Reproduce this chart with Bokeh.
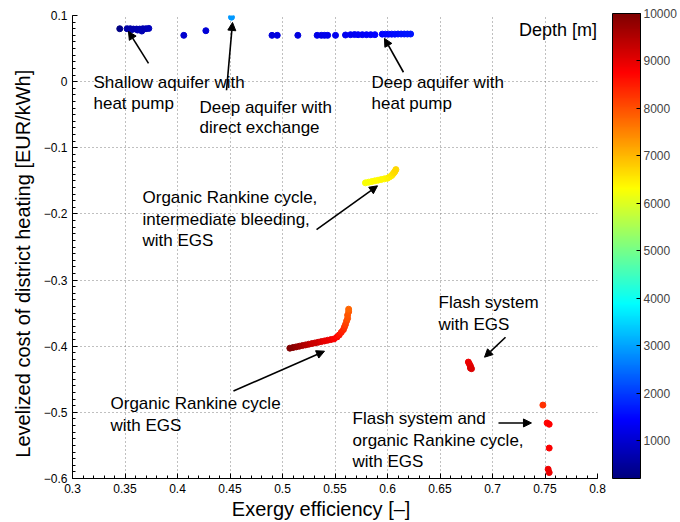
import numpy as np
from bokeh.plotting import figure
from bokeh.models import (ColumnDataSource, LinearColorMapper, ColorBar, FixedTicker,
                          CustomJSTickFormatter, Label, Arrow, NormalHead)
from bokeh.transform import transform
from bokeh.embed import file_html
from bokeh.resources import INLINE

# ---------------- data ----------------
shallow_eff = [0.345, 0.352, 0.355, 0.358, 0.361, 0.364, 0.367, 0.370, 0.3727, 0.356, 0.362, 0.366]
shallow_cost = [0.080, 0.080, 0.080, 0.0795, 0.0795, 0.0795, 0.080, 0.080, 0.0805, 0.0785, 0.078, 0.0765]
shallow_depth = [250, 600, 620, 650, 680, 700, 720, 750, 780, 640, 690, 700]

direct_eff = [0.4514]
direct_cost = [0.0975]
direct_depth = [2900]

deephp_eff = [0.406, 0.427, 0.490, 0.495, 0.5146, 0.533, 0.537, 0.540, 0.543, 0.5505, 0.560, 0.5648,
              0.5686, 0.572, 0.576, 0.580, 0.584, 0.588, 0.595, 0.598, 0.601, 0.604, 0.607, 0.610,
              0.613, 0.616, 0.619, 0.622]
deephp_cost = [0.070, 0.077, 0.070, 0.070, 0.070, 0.070, 0.070, 0.070, 0.070, 0.070, 0.0705, 0.071,
               0.0712, 0.071, 0.071, 0.071, 0.071, 0.071, 0.0718, 0.0718, 0.0718, 0.0718, 0.0718, 0.072,
               0.072, 0.072, 0.072, 0.072]
deephp_depth = [1000, 1050, 1100, 1120, 1150, 1200, 1220, 1240, 1260, 1280, 1300, 1320,
                1340, 1360, 1380, 1400, 1420, 1440, 1460, 1480, 1500, 1520, 1540, 1560,
                1580, 1600, 1620, 1640]

orcb_eff = [0.579, 0.582, 0.585, 0.588, 0.591, 0.594, 0.597, 0.600, 0.602, 0.604, 0.605, 0.606, 0.607, 0.608]
orcb_cost = [-0.153, -0.152, -0.151, -0.150, -0.149, -0.148, -0.147, -0.146, -0.144, -0.142, -0.140, -0.138, -0.136, -0.133]
orcb_depth = [6250, 6280, 6300, 6330, 6350, 6380, 6400, 6430, 6460, 6500, 6550, 6600, 6650, 6700]

orc_eff = [0.507, 0.510, 0.513, 0.516, 0.519, 0.522, 0.525, 0.528, 0.531, 0.534, 0.537, 0.540, 0.543,
           0.546, 0.549, 0.552, 0.554, 0.556, 0.558, 0.559, 0.560, 0.561, 0.562, 0.562, 0.563, 0.563]
orc_cost = [-0.403, -0.402, -0.401, -0.400, -0.399, -0.398, -0.397, -0.396, -0.395, -0.394, -0.393, -0.392, -0.391,
            -0.390, -0.389, -0.386, -0.383, -0.379, -0.375, -0.371, -0.367, -0.362, -0.358, -0.353, -0.348, -0.344]
orc_depth = [10000, 9900, 9800, 9700, 9600, 9500, 9400, 9300, 9250, 9200, 9100, 9000, 8950,
             8900, 8800, 8700, 8600, 8500, 8400, 8300, 8200, 8100, 8000, 7950, 7900, 7800]

flash_eff = [0.677, 0.678, 0.679, 0.679, 0.680]
flash_cost = [-0.424, -0.427, -0.430, -0.433, -0.434]
flash_depth = [8900, 8950, 9000, 9050, 9100]

flashorc_eff = [0.748, 0.752, 0.754, 0.754, 0.753, 0.754]
flashorc_cost = [-0.489, -0.516, -0.518, -0.554, -0.586, -0.591]
flashorc_depth = [8300, 8700, 8750, 8800, 8900, 8950]

x_ticks = [0.3, 0.35, 0.4, 0.45, 0.5, 0.55, 0.6, 0.65, 0.7, 0.75, 0.8]
y_ticks = [-0.6, -0.5, -0.4, -0.3, -0.2, -0.1, 0.0, 0.1]
cbar_ticks = [1000, 2000, 3000, 4000, 5000, 6000, 7000, 8000, 9000, 10000]
depth_low, depth_high = 200, 10000

ann_lines = [
    ("Shallow aquifer with", 0.3200, -0.0020), ("heat pump", 0.3200, -0.0325),
    ("Deep aquifer with", 0.4210, -0.0386), ("direct exchange", 0.4210, -0.0687),
    ("Deep aquifer with", 0.5848, -0.0020), ("heat pump", 0.5848, -0.0325),
    ("Organic Rankine cycle,", 0.3667, -0.1756), ("intermediate bleeding,", 0.3667, -0.2080),
    ("with EGS", 0.3667, -0.2404),
    ("Organic Rankine cycle", 0.3362, -0.4873), ("with EGS", 0.3362, -0.5205),
    ("Flash system", 0.6486, -0.3337), ("with EGS", 0.6486, -0.3669),
    ("Flash system and", 0.5667, -0.5099), ("organic Rankine cycle,", 0.5667, -0.5431),
    ("with EGS", 0.5667, -0.5747),
]
arrows = [
    (0.3724, 0.0277, 0.3533, 0.0759),
    (0.4467, -0.0130, 0.4524, 0.0895),
    (0.6152, 0.0142, 0.5971, 0.0654),
    (0.5324, -0.2238, 0.5905, -0.1575),
    (0.4533, -0.4678, 0.5400, -0.4075),
    (0.7124, -0.3864, 0.6924, -0.4166),
    (0.7057, -0.5160, 0.7371, -0.5160),
]

# ---------------- jet colormap ----------------
def jet(n=256):
    out = []
    for i in range(n):
        t = i / (n - 1)
        r = min(max(1.5 - abs(4 * t - 3), 0), 1)
        g = min(max(1.5 - abs(4 * t - 2), 0), 1)
        b = min(max(1.5 - abs(4 * t - 1), 0), 1)
        out.append("#%02x%02x%02x" % (int(r * 255), int(g * 255), int(b * 255)))
    return out

FONT = "Liberation Sans"
NB = "\u00a0"

eff = shallow_eff + direct_eff + deephp_eff + orcb_eff + orc_eff + flash_eff + flashorc_eff
cost = shallow_cost + direct_cost + deephp_cost + orcb_cost + orc_cost + flash_cost + flashorc_cost
depth = shallow_depth + direct_depth + deephp_depth + orcb_depth + orc_depth + flash_depth + flashorc_depth
src = ColumnDataSource(dict(eff=eff, cost=cost, depth=depth))

mapper = LinearColorMapper(palette=jet(256), low=depth_low, high=depth_high)

p = figure(width=680, height=522, x_range=(0.3, 0.8), y_range=(-0.6, 0.1),
           output_backend="svg", toolbar_location=None,
           min_border_left=72, min_border_right=83, min_border_top=15, min_border_bottom=42)
p.outline_line_color = None
p.background_fill_color = "white"

p.scatter("eff", "cost", source=src, size=6,
          fill_color=transform("depth", mapper), line_color=transform("depth", mapper))

fmt = CustomJSTickFormatter(code="""
const s = (Math.round(tick*100)/100).toString();
return s.replace('-', '\\u2212');
""")

x_minor = [round(0.3 + 0.01 * i, 2) for i in range(51)]
y_minor = [round(-0.6 + 0.01 * i, 2) for i in range(71)]
p.xaxis.ticker = FixedTicker(ticks=x_ticks, minor_ticks=x_minor)
p.yaxis.ticker = FixedTicker(ticks=y_ticks, minor_ticks=y_minor)
for ax in (p.xaxis[0], p.yaxis[0]):
    ax.formatter = fmt
    ax.axis_line_color = "black"
    ax.major_tick_line_color = "black"
    ax.minor_tick_line_color = "black"
    ax.major_tick_in = 5
    ax.major_tick_out = 0
    ax.minor_tick_in = 3
    ax.minor_tick_out = 0
    ax.major_label_text_font = FONT
    ax.major_label_text_font_size = "12px"
    ax.major_label_text_color = "black"
    ax.major_label_standoff = 5
    ax.axis_label_text_font = FONT
    ax.axis_label_text_font_size = "20px"
    ax.axis_label_text_font_style = "normal"
    ax.axis_label_text_color = "black"

p.xaxis.axis_label = "Exergy efficiency [\u2013]" + NB * 5
p.xaxis.axis_label_standoff = 2
p.yaxis.axis_label = "Levelized cost of district heating [EUR/kWh]" + NB * 6
p.yaxis.axis_label_standoff = 7

for g in (p.xgrid[0], p.ygrid[0]):
    g.grid_line_color = "#808080"
    g.grid_line_dash = "1 3"
    g.grid_line_width = 1

for txt, lx, ly in ann_lines:
    p.add_layout(Label(x=lx, y=ly, text=txt, text_align="left", text_baseline="middle",
                       text_font=FONT, text_font_size="17px", text_color="black"))

for x0, y0, x1, y1 in arrows:
    p.add_layout(Arrow(end=NormalHead(size=8, fill_color="black", line_color="black"),
                       x_start=x0, y_start=y0, x_end=x1, y_end=y1,
                       line_color="black", line_width=1.6))

p.add_layout(Label(x=0.7995, y=0.0774, text="Depth [m]", text_align="right", text_baseline="middle",
                   text_font=FONT, text_font_size="18px", text_color="black"))

cb = ColorBar(color_mapper=mapper, ticker=FixedTicker(ticks=cbar_ticks),
              width=28, height=465, padding=0, margin=0, location=(15, 0),
              label_standoff=3, major_label_text_font=FONT, major_label_text_font_size="12px",
              bar_line_color="black", major_tick_line_color="black", major_tick_in=4,
              major_tick_out=0, minor_tick_line_color=None)
p.add_layout(cb, "right")

open("out.html", "w").write(file_html(p, INLINE))
